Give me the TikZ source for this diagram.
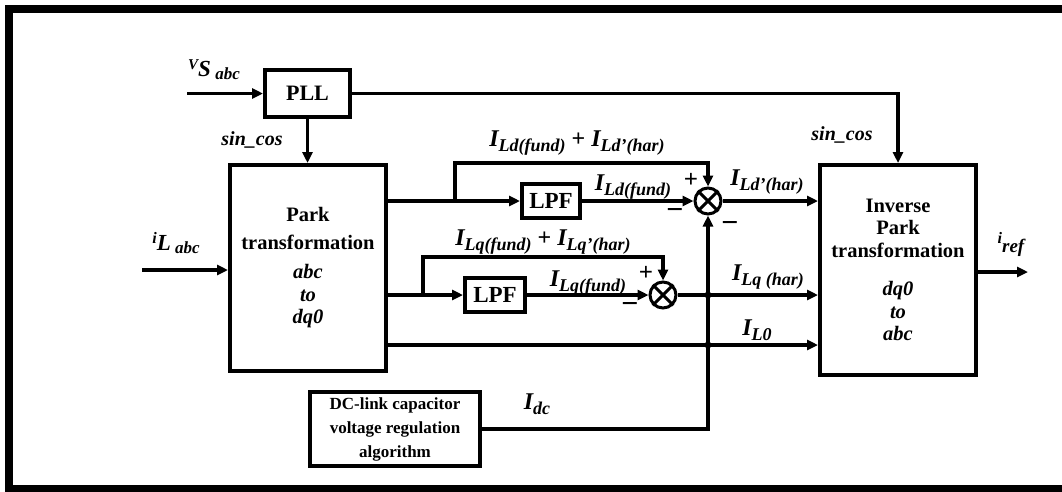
\documentclass[tikz,border=0pt]{standalone}
\usepackage{fontspec}
\setmainfont{Liberation Serif}
\usetikzlibrary{arrows.meta,calc}
\newcommand\fs[1]{\fontsize{#1}{#1}\selectfont}
\newcommand\sig[2]{{\fs{24}\bfseries\itshape #1\raisebox{-5pt}{\fs{18}#2}}}
\begin{document}
\begin{tikzpicture}[x=1pt,y=-1pt,
  blk/.style={draw,line width=4pt,inner sep=0pt,align=center},
  wire/.style={line width=3.5pt},
  arr/.style={wire,-{Triangle[length=11pt,width=10pt]}},
  mult/.style={draw,circle,line width=3pt,minimum size=26pt,inner sep=0pt},
  lbl/.style={inner sep=0pt},
  sgn/.style={inner sep=0pt,font=\fs{25}\bfseries},
  msgn/.style={inner sep=0pt,font=\fs{30}\bfseries},
]
\useasboundingbox (0,0) rectangle (1062,491);
% frame
\draw[line width=8pt] (1062,9) -- (9,9) -- (9,488.5) -- (1062,488.5);
% blocks
\node[blk,minimum width=85pt,minimum height=47pt,font=\fs{22}\bfseries] (pll) at (307.5,93.5) {PLL};
\node[blk,minimum width=156pt,minimum height=206pt,font=\fontsize{20.5}{28}\selectfont\bfseries] (park) at (308,268)
  {Park\\transformation\\[1pt]\textit{abc}\\[-5pt]\textit{to}\\[-6pt]\textit{dq0}};
\node[blk,minimum width=156pt,minimum height=210pt,font=\fontsize{20.5}{22.5}\selectfont\bfseries] (inv) at (898,270)
  {Inverse\\Park\\transformation\\[16pt]\textit{dq0}\\\textit{to}\\\textit{abc}};
\node[blk,minimum width=58pt,minimum height=34pt,font=\fs{23}\bfseries] (ld) at (551,201) {LPF};
\node[blk,minimum width=60pt,minimum height=34pt,font=\fs{23}\bfseries] (lq) at (495,295) {LPF};
\node[blk,minimum width=170pt,minimum height=74pt,font=\fontsize{17}{24}\selectfont\bfseries] (dc) at (395,429)
  {DC-link capacitor\\voltage regulation\\algorithm};
\node[mult] (md) at (708,201) {};
\node[mult] (mq) at (663,295) {};
\draw[line width=3pt] (md.45) -- (md.225) (md.135) -- (md.315);
\draw[line width=3pt] (mq.45) -- (mq.225) (mq.135) -- (mq.315);
% coordinates
\coordinate (vs) at (187,93.5);
\coordinate (il) at (142,270);
\coordinate (bd) at (455,201);
\coordinate (topd) at (455,163);
\coordinate (bq) at (423,295);
\coordinate (topq) at (423,257);
\coordinate (l0) at (388,345);
\coordinate (ir) at (1028,272);
\coordinate (jq) at (708,295);
\coordinate (jl) at (708,345);
% wires
\draw[arr] (vs) -- (pll.west);
\draw[arr] (pll.south) -- (pll.south |- park.north);
\draw[arr] (pll.east) -| (inv.north);
\draw[arr] (il) -- (il -| park.west);
\draw[arr] (park.east |- ld.west) -- (ld.west);
\draw[arr] (bd) -- (topd) -| (md.north);
\draw[arr] (ld.east) -- (md.west);
\draw[arr] (md.east) -- (md.east -| inv.west);
\draw[arr] (park.east |- lq.west) -- (lq.west);
\draw[arr] (bq) -- (topq) -| (mq.north);
\draw[arr] (lq.east) -- (mq.west);
\draw[arr] (mq.east) -- (mq.east -| inv.west);
\draw[arr] (l0) -- (l0 -| inv.west);
\draw[arr] (dc.east) -| (md.south);
\fill (jq) circle (3.5pt);
\fill (jl) circle (3.5pt);
\draw[arr] (inv.east |- ir) -- (ir);
% labels
\node[lbl] (lvs) at (214,70) {{\fs{15}\bfseries\itshape\raisebox{7pt}{V}}{\fs{23}\bfseries\itshape S}{\fs{17}\bfseries\itshape\raisebox{-3pt}{ abc}}};
\node[lbl] (lil) at (176,243) {{\fs{16}\bfseries\itshape\raisebox{7pt}{i}}{\fs{23}\bfseries\itshape L}{\fs{17}\bfseries\itshape\raisebox{-3pt}{ abc}}};
\node[lbl] (lir) at (1011,244) {{\fs{16}\bfseries\itshape\raisebox{7pt}{i}}{\fs{19}\bfseries\itshape\raisebox{-2pt}{ref}}};
\node[lbl,font=\fs{20}\bfseries\itshape] (sc1) at (252,140) {sin\_cos};
\node[lbl,font=\fs{20}\bfseries\itshape] (sc2) at (842,135) {sin\_cos};
\node[lbl] (sumd) at (577,143) {\sig{I}{Ld(fund)}{\fs{24}\bfseries{} + }\sig{I}{Ld'(har)}};
\node[lbl] (fd) at (633,187) {\sig{I}{Ld(fund)}};
\node[lbl] (sumq) at (543,242) {\sig{I}{Lq(fund)}{\fs{24}\bfseries{} + }\sig{I}{Lq'(har)}};
\node[lbl] (fq) at (588,283) {\sig{I}{Lq(fund)}};
\node[lbl] (hd) at (767,182) {\sig{I}{Ld'(har)}};
\node[lbl] (hq) at (768,277) {\sig{I}{Lq (har)}};
\node[lbl] (l0l) at (757,330) {\sig{I}{L0}};
\node[lbl] (idc) at (537,404) {\sig{I}{dc}};
\node[sgn] (p1) at (691,180) {+};
\node[msgn] (m1) at (675,214) {−};
\node[msgn] (m2) at (730,227) {−};
\node[sgn] (p2) at (646,273) {+};
\node[msgn] (m3) at (630,308) {−};
\end{tikzpicture}
\end{document}
